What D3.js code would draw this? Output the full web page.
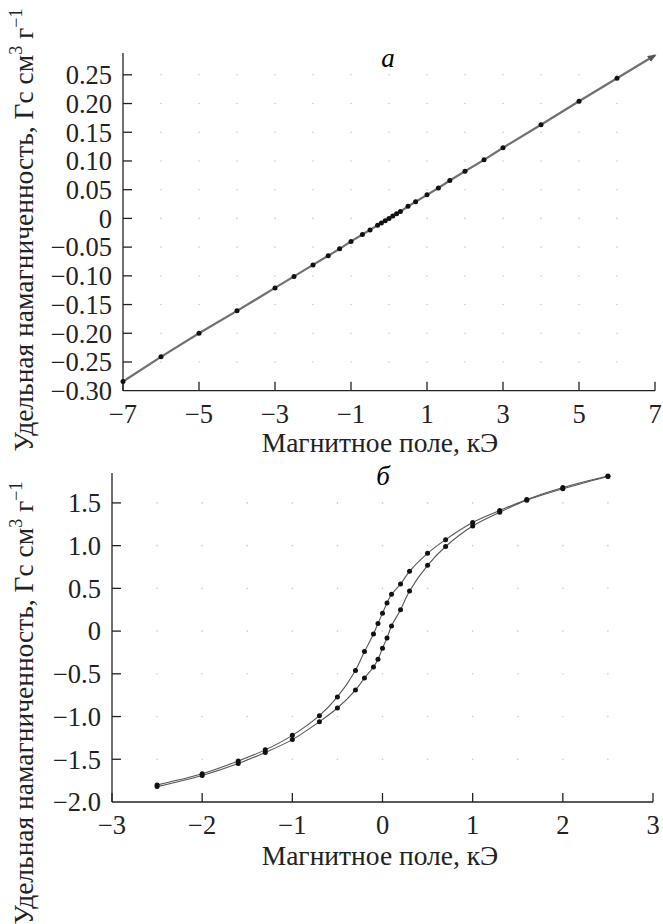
<!DOCTYPE html>
<html>
<head>
<meta charset="utf-8">
<script src="https://cdn.jsdelivr.net/npm/d3@7"></script>
</head>
<body style="margin:0">
<svg id="chart" width="663" height="924"></svg>
<script>
// panel a: magnetization vs field (practically linear)
const fieldA = [-7, -6, -5, -4, -3, -2.5, -2, -1.6, -1.3, -1, -0.7, -0.5, -0.3, -0.2, -0.1, 0,
  0.1, 0.2, 0.3, 0.5, 0.7, 1, 1.3, 1.6, 2, 2.5, 3, 4, 5, 6, 7];
const magA = [-0.284, -0.241, -0.200, -0.161, -0.121, -0.101, -0.081, -0.065, -0.053, -0.040, -0.028,
  -0.020, -0.012, -0.008, -0.004, 0.000, 0.004, 0.008, 0.012, 0.021, 0.029, 0.041, 0.053, 0.066,
  0.082, 0.102, 0.123, 0.163, 0.204, 0.244, 0.284];

// panel б: hysteresis loop
const fieldB = [-2.5, -2, -1.6, -1.3, -1, -0.7, -0.5, -0.3, -0.2, -0.1, -0.05, 0, 0.05, 0.1, 0.2,
  0.3, 0.5, 0.7, 1, 1.3, 1.6, 2, 2.5];
const magBUp = [-1.80, -1.67, -1.52, -1.39, -1.22, -0.99, -0.77, -0.46, -0.24, -0.035, 0.09, 0.21,
  0.33, 0.43, 0.55, 0.70, 0.91, 1.07, 1.27, 1.41, 1.54, 1.68, 1.815];
const magBLow = [-1.82, -1.69, -1.55, -1.42, -1.27, -1.06, -0.90, -0.69, -0.55, -0.42, -0.33, -0.20,
  -0.08, 0.06, 0.25, 0.47, 0.77, 0.99, 1.23, 1.39, 1.53, 1.665, 1.81];

const ticksAX = [-7, -5, -3, -1, 1, 3, 5, 7];
const ticksAY = [-0.30, -0.25, -0.20, -0.15, -0.10, -0.05, 0, 0.05, 0.10, 0.15, 0.20, 0.25];
const gridAX = [-6, -5, -4, -3, -2, -1, 0, 1, 2, 3, 4, 5, 6];
const ticksBX = [-3, -2, -1, 0, 1, 2, 3];
const ticksBY = [-2.0, -1.5, -1.0, -0.5, 0, 0.5, 1.0, 1.5];
const gridBX = [-2.5, -2, -1.5, -1, -0.5, 0, 0.5, 1, 1.5, 2, 2.5];

const FONT = "\"Liberation Serif\"";
const svg = d3.select("#chart");

const defs = svg.append("defs");
defs.append("marker")
    .attr("id", "arrow")
    .attr("viewBox", "0 0 10 10")
    .attr("refX", 8).attr("refY", 5)
    .attr("markerWidth", 4).attr("markerHeight", 4)
    .attr("orient", "auto")
  .append("path")
    .attr("d", "M0,1L10,5L0,9z")
    .attr("fill", "#555");

function fmtY(digits) {
  const f = d3.format(`.${digits}f`);
  return v => v === 0 ? "0" : f(v);
}

function label(sel, size) {
  return sel.style("font-family", FONT).attr("font-size", size);
}

function panel(cfg) {
  const x = d3.scaleLinear().domain(cfg.xDomain).range(cfg.xRange);
  const y = d3.scaleLinear().domain(cfg.yDomain).range(cfg.yRange);
  const g = svg.append("g");

  // faint dotted grid
  g.append("g").selectAll("circle")
    .data(cfg.gridX.flatMap(gx => cfg.yTicks.filter(t => t !== cfg.yDomain[0]).map(gy => [gx, gy])))
    .join("circle")
      .attr("cx", d => x(d[0]))
      .attr("cy", d => y(d[1]))
      .attr("r", 0.8)
      .attr("fill", "#c8c8c8");

  // axes drawn by hand from the scales
  const xa = g.append("g").attr("transform", `translate(0,${cfg.yRange[0]})`);
  xa.append("line").attr("x1", cfg.xRange[0]).attr("x2", cfg.xRange[1])
      .attr("stroke", "#222").attr("stroke-width", 1.3);
  const xt = xa.selectAll("g").data(cfg.xTicks).join("g")
      .attr("transform", d => `translate(${x(d)},0)`);
  xt.append("line").attr("y2", -9).attr("stroke", "#222").attr("stroke-width", 1.3);
  label(xt.append("text"), 26.5)
      .attr("y", 32)
      .attr("text-anchor", "middle")
      .attr("fill", "#222")
      .text(d3.format("d"));

  const ya = g.append("g").attr("transform", `translate(${cfg.xRange[0]},0)`);
  ya.append("line").attr("y1", cfg.yRange[0]).attr("y2", cfg.yRange[1])
      .attr("stroke", "#222").attr("stroke-width", 1.3);
  const ytk = ya.selectAll("g").data(cfg.yTicks).join("g")
      .attr("transform", d => `translate(0,${y(d)})`);
  ytk.filter(d => d !== cfg.yDomain[0]).append("line").attr("x2", 9)
      .attr("stroke", "#222").attr("stroke-width", 1.3);
  label(ytk.append("text"), 26.5)
      .attr("x", -11)
      .attr("dy", "0.35em")
      .attr("text-anchor", "end")
      .attr("fill", "#222")
      .text(fmtY(cfg.yDigits));

  const line = d3.line().x(d => x(d[0])).y(d => y(d[1])).curve(cfg.curve);
  cfg.series.forEach(s => {
    const pts = s.xs.map((v, i) => [v, s.ys[i]]);
    g.append("path")
        .datum(pts)
        .attr("d", line)
        .attr("fill", "none")
        .attr("stroke", s.color)
        .attr("stroke-width", s.width)
        .attr("marker-end", s.arrow ? "url(#arrow)" : null);
    g.append("g").selectAll("circle")
      .data(pts.filter((p, i) => !(s.arrow && i === pts.length - 1)))
      .join("circle")
        .attr("cx", d => x(d[0]))
        .attr("cy", d => y(d[1]))
        .attr("r", 2.5)
        .attr("fill", "#111");
  });

  label(g.append("text"), 27)
      .attr("x", cfg.letter[0]).attr("y", cfg.letter[1])
      .attr("text-anchor", "middle")
      .style("font-style", "italic")
      .text(cfg.letterText);

  label(g.append("text"), 27.5)
      .attr("x", 380).attr("y", cfg.xTitleY)
      .attr("text-anchor", "middle")
      .attr("fill", "#222")
      .text("Магнитное поле, кЭ");

  const yt = label(g.append("text"), 27.5)
      .attr("transform", `translate(33,${cfg.yTitleY}) rotate(-90)`)
      .attr("text-anchor", "middle")
      .attr("fill", "#222");
  yt.append("tspan").text("Удельная намагниченность, Гс см");
  yt.append("tspan").attr("dy", -11).attr("font-size", 18).text("3");
  yt.append("tspan").attr("dy", 11).text(" г");
  yt.append("tspan").attr("dy", -11).attr("font-size", 18).text("−1");
}

panel({
  xDomain: [-7, 7], xRange: [123, 655],
  yDomain: [-0.30, 0.288], yRange: [390.7, 53],
  xTicks: ticksAX, yTicks: ticksAY, gridX: gridAX, yDigits: 2,
  curve: d3.curveLinear,
  series: [{ xs: fieldA, ys: magA, color: "#707070", width: 2.2, arrow: true }],
  letter: [388, 67], letterText: "a",
  xTitleY: 452, yTitleY: 230
});

panel({
  xDomain: [-3, 3], xRange: [112, 653],
  yDomain: [-2.0, 1.85], yRange: [802, 473],
  xTicks: ticksBX, yTicks: ticksBY, gridX: gridBX, yDigits: 1,
  curve: d3.curveCatmullRom,
  series: [
    { xs: fieldB, ys: magBUp, color: "#555", width: 1.1, arrow: false },
    { xs: fieldB, ys: magBLow, color: "#555", width: 1.1, arrow: false }
  ],
  letter: [383, 485], letterText: "б",
  xTitleY: 865, yTitleY: 703
});
</script>
</body>
</html>
